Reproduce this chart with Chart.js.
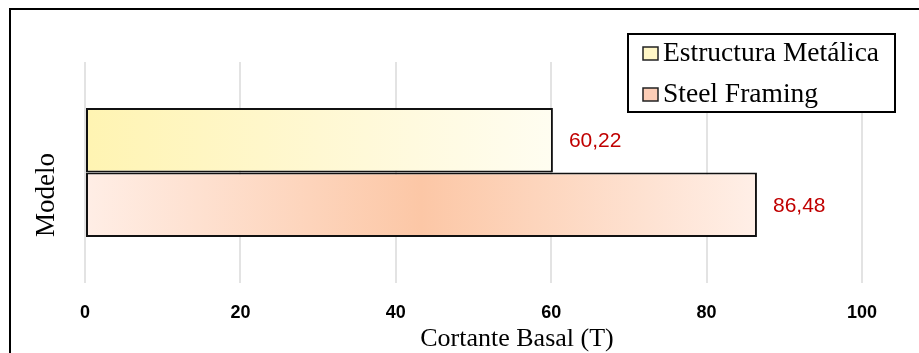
<!DOCTYPE html>
<html>
<head>
<meta charset="utf-8">
<script src="https://cdn.jsdelivr.net/npm/chart.js@4"></script>
<style>
    html, body { margin: 0; padding: 0; background: #fff; }
    #wrap { position: relative; width: 919px; height: 353px; overflow: hidden; }
    #frame {
        position: absolute; left: 9px; top: 8px; width: 960px; height: 400px;
        border-left: 2px solid #000; border-top: 2px solid #000; pointer-events: none;
    }
    canvas { position: absolute; left: 0; top: 0; }
</style>
</head>
<body>
<div id="wrap">
    <canvas id="cortanteChart" width="919" height="353"></canvas>
    <div id="frame"></div>
</div>
<script>
// ===== Data =====
const categorias = [''];
const seriesNames = ['Estructura Metálica', 'Steel Framing'];
const estructuraMetalica = [60.22];
const steelFraming = [86.48];
const xTicks = [0, 20, 40, 60, 80, 100];
const xTitle = 'Cortante Basal (T)';
const yTitle = 'Modelo';

const serifFont = "'Liberation Serif', 'Times New Roman', serif";
const sansFont = "'Liberation Sans', Arial, sans-serif";

// Gradient stops per series (left -> right along the bar)
const yellowStops = [[0, '#FFF4B2'], [0.5, '#FFF8D2'], [1, '#FFFDF1']];
const salmonStops = [[0, '#FFEEE6'], [0.5, '#FCC7A6'], [1, '#FFEFE7']];

function barGradient(ctx, stops) {
    const chart = ctx.chart;
    const x = chart.scales.x;
    if (!chart.chartArea || !x || ctx.raw === undefined) return stops[1][1];
    const g = chart.ctx.createLinearGradient(x.getPixelForValue(0), 0, x.getPixelForValue(ctx.raw), 0);
    stops.forEach(([p, c]) => g.addColorStop(p, c));
    return g;
}

// Value labels at the end of each bar
const valueLabels = {
    id: 'valueLabels',
    afterDatasetsDraw(chart) {
        const ctx = chart.ctx;
        ctx.save();
        ctx.font = '21px ' + sansFont;
        ctx.fillStyle = '#C00000';
        ctx.textAlign = 'left';
        ctx.textBaseline = 'middle';
        chart.data.datasets.forEach((ds, i) => {
            chart.getDatasetMeta(i).data.forEach((bar, j) => {
                const txt = ds.data[j].toFixed(2).replace('.', ',');
                ctx.fillText(txt, bar.x + 16, bar.y + 1);
            });
        });
        ctx.restore();
    }
};

// Axis titles (placed like the original, a bit off the plot centre)
const axisTitles = {
    id: 'axisTitles',
    afterDraw(chart) {
        const ctx = chart.ctx;
        ctx.save();
        ctx.fillStyle = '#000';
        ctx.font = '26px ' + serifFont;
        ctx.textAlign = 'center';
        ctx.textBaseline = 'middle';
        ctx.fillText(xTitle, 517, 339);
        ctx.translate(47, 195);
        ctx.rotate(-Math.PI / 2);
        ctx.font = '27px ' + serifFont;
        ctx.fillText(yTitle, 0, 0);
        ctx.restore();
    }
};

// Boxed legend inside the plot, top right
const boxLegend = {
    id: 'boxLegend',
    afterDraw(chart) {
        const ctx = chart.ctx;
        const left = 628, top = 34, w = 267, h = 78;
        ctx.save();
        ctx.fillStyle = '#fff';
        ctx.fillRect(left, top, w, h);
        ctx.lineWidth = 2;
        ctx.strokeStyle = '#000';
        ctx.strokeRect(left, top, w, h);

        const swatches = ['#FFF6C6', '#FCCDB6'];
        const baselines = [61, 102];
        ctx.font = '27.5px ' + serifFont;
        ctx.textBaseline = 'alphabetic';
        chart.data.datasets.forEach((ds, i) => {
            const sy = baselines[i] - 14;
            ctx.fillStyle = swatches[i];
            ctx.fillRect(643, sy, 15, 13);
            ctx.lineWidth = 1.5;
            ctx.strokeStyle = '#222';
            ctx.strokeRect(643, sy, 15, 13);
            ctx.fillStyle = '#000';
            ctx.fillText(ds.label, 663, baselines[i]);
        });
        ctx.restore();
    }
};

const ctx = document.getElementById('cortanteChart').getContext('2d');

new Chart(ctx, {
    type: 'bar',
    data: {
        labels: categorias,
        datasets: [{
            label: seriesNames[0],
            data: estructuraMetalica,
            backgroundColor: (c) => barGradient(c, yellowStops),
            borderColor: '#111',
            borderWidth: 2,
            borderSkipped: false
        }, {
            label: seriesNames[1],
            data: steelFraming,
            backgroundColor: (c) => barGradient(c, salmonStops),
            borderColor: '#111',
            borderWidth: 2,
            borderSkipped: false
        }]
    },
    options: {
        indexAxis: 'y',
        responsive: false,
        animation: false,
        categoryPercentage: 0.584,
        barPercentage: 1,
        layout: { padding: { top: 62, right: 57, left: 0, bottom: 0 } },
        plugins: {
            legend: { display: false },
            tooltip: { enabled: false }
        },
        scales: {
            x: {
                min: 0,
                max: 100,
                afterBuildTicks: (scale) => { scale.ticks = xTicks.map(v => ({ value: v })); },
                afterFit: (scale) => { scale.height = 70; },
                border: { display: false },
                grid: { color: '#e3e3e3', lineWidth: 2, drawTicks: false },
                ticks: {
                    padding: 19,
                    color: '#000',
                    font: { family: sansFont, size: 18, weight: 'bold' }
                },
                title: { display: false }
            },
            y: {
                afterFit: (scale) => { scale.width = 85; },
                border: { display: false },
                grid: { display: false, drawTicks: false },
                ticks: { display: false },
                title: { display: false }
            }
        }
    },
    plugins: [valueLabels, axisTitles, boxLegend]
});
</script>
</body>
</html>
